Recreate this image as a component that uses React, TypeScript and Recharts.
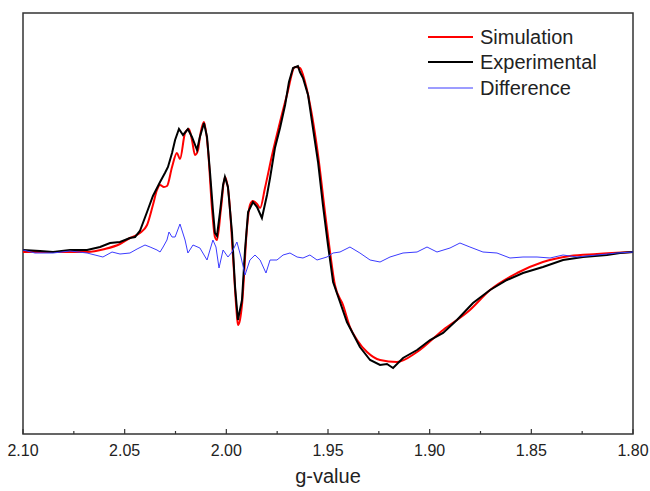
import React from 'react';
import { LineChart, Line, XAxis, YAxis, Label, ReferenceArea } from 'recharts';

// [g-value, signal]
const simulation: [number, number][] = [
  [2.1, -1], [2.0852, -1], [2.0685, -1], [2.0597, 2], [2.0523, 7], [2.0474, 13], [2.0425, 18],
  [2.039, 26], [2.0361, 46], [2.0341, 61], [2.0326, 66], [2.0307, 64], [2.0292, 65], [2.0267, 84],
  [2.0243, 98], [2.0228, 92], [2.0203, 118], [2.0184, 122], [2.0169, 111], [2.0154, 96], [2.0139, 101],
  [2.013, 114], [2.011, 129], [2.009, 101], [2.007, 41], [2.0056, 14], [2.0046, 11], [2.0026, 43],
  [2.0007, 74], [1.9987, 54], [1.9967, -6], [1.9952, -54], [1.9943, -74], [1.9933, -69], [1.9923, -54],
  [1.9898, 24], [1.9884, 46], [1.9869, 50], [1.9849, 47], [1.9834, 43], [1.981, 63], [1.9775, 96],
  [1.9736, 129], [1.9702, 156], [1.9662, 184], [1.9638, 183], [1.9613, 169], [1.9579, 136], [1.9549, 96],
  [1.9515, 39], [1.949, -1], [1.9466, -34], [1.9426, -54], [1.9392, -76], [1.9357, -89], [1.9308, -101],
  [1.9244, -109], [1.9161, -111], [1.9062, -101], [1.8934, -79], [1.8802, -59], [1.8703, -39],
  [1.857, -22], [1.8443, -11], [1.831, -5], [1.8177, -3], [1.8, -1],
];

const experimental: [number, number][] = [
  [2.1, 1], [2.0916, 0], [2.0852, -1], [2.0769, 1], [2.0685, 1], [2.0621, 4], [2.0572, 8], [2.0523, 9],
  [2.0474, 13], [2.0449, 14], [2.0425, 20], [2.039, 39], [2.0361, 55], [2.0351, 59], [2.0326, 69],
  [2.0302, 78], [2.0287, 84], [2.0267, 98], [2.0252, 111], [2.0233, 122], [2.0213, 116], [2.0189, 122],
  [2.0169, 114], [2.0144, 101], [2.013, 114], [2.011, 128], [2.0095, 114], [2.008, 78], [2.0066, 41],
  [2.0056, 18], [2.0046, 15], [2.0031, 39], [2.0016, 66], [2.0007, 74], [1.9992, 64], [1.9972, 18],
  [1.9957, -36], [1.9943, -69], [1.9923, -49], [1.9908, 1], [1.9893, 39], [1.9869, 49], [1.9849, 44],
  [1.9825, 33], [1.98, 56], [1.9785, 73], [1.9761, 103], [1.9736, 123], [1.9711, 146], [1.9692, 169],
  [1.9672, 183], [1.9648, 185], [1.9638, 179], [1.9623, 173], [1.9598, 156], [1.9574, 123], [1.9549, 89],
  [1.9525, 46], [1.95, 6], [1.9475, -31], [1.9441, -51], [1.9407, -71], [1.9343, -96], [1.9293, -109],
  [1.9244, -114], [1.921, -113], [1.918, -117], [1.9131, -107], [1.9062, -99], [1.8998, -89],
  [1.8934, -82], [1.8866, -69], [1.8787, -52], [1.8703, -39], [1.862, -29], [1.8541, -22], [1.8443, -16],
  [1.8344, -9], [1.8246, -6], [1.8128, -4], [1.8064, -2], [1.8, -1],
];

const difference: [number, number][] = [
  [2.1, 1], [2.0941, -2], [2.0852, -2], [2.0769, 0], [2.0685, -2], [2.0607, -6], [2.0562, -1],
  [2.0523, -3], [2.0474, -2], [2.0439, 2], [2.04, 6], [2.0375, 4], [2.0341, 1], [2.0326, -1],
  [2.0311, 4], [2.0292, 11], [2.0282, 19], [2.0267, 14], [2.0252, 14], [2.0228, 27], [2.0203, 11],
  [2.0189, -2], [2.0164, 6], [2.013, 3], [2.0095, -9], [2.0066, 11], [2.0051, 4], [2.0036, -17],
  [2.0016, 1], [1.9992, -6], [1.9972, -1], [1.9948, 9], [1.9928, -6], [1.9908, -24], [1.9884, -9],
  [1.9859, -4], [1.9834, -9], [1.9805, -22], [1.9785, -9], [1.9751, -9], [1.9721, -4], [1.9687, -2],
  [1.9652, -6], [1.9623, -7], [1.9589, -4], [1.9554, -9], [1.9505, -6], [1.9475, -2], [1.9441, -1],
  [1.9392, 4], [1.9343, -2], [1.9293, -9], [1.9244, -11], [1.9195, -6], [1.9131, -2], [1.9062, -1],
  [1.9013, 4], [1.8964, -1], [1.89, 3], [1.8851, 8], [1.8802, 4], [1.8738, -1], [1.8669, -2],
  [1.8605, -7], [1.8541, -6], [1.8472, -6], [1.8408, -7], [1.8344, -4], [1.8275, -6], [1.8177, -4],
  [1.8079, -2], [1.8, -1],
];

const majorTicks = [2.1, 2.05, 2.0, 1.95, 1.9, 1.85, 1.8];
const allTicks = [2.1, 2.075, 2.05, 2.025, 2.0, 1.975, 1.95, 1.925, 1.9, 1.875, 1.85, 1.825, 1.8];

const legendItems = [
  { name: 'Simulation', color: '#ff0000', width: 2 },
  { name: 'Experimental', color: '#000000', width: 2 },
  { name: 'Difference', color: '#3b3bff', width: 1 },
];

const Y_MIN = -183;
const Y_MAX = 238;

const toRows = (pts: [number, number][]) => pts.map(([g, v]) => ({ g, v }));

const FONT = '"Liberation Sans", Arial, sans-serif';

const GTick = (props: any) => {
  const { x, y, payload } = props;
  const major = majorTicks.some((t) => Math.abs(t - payload.value) < 1e-6);
  return (
    <g>
      <line x1={x} x2={x} y1={y} y2={y - (major ? 5 : 3)} stroke="#333" strokeWidth={1.2} />
      {major && (
        <text x={x} y={y + 22} textAnchor="middle" fontSize={16} fill="#222" fontFamily={FONT}>
          {payload.value.toFixed(2)}
        </text>
      )}
    </g>
  );
};

const LegendBox = () => (
  <div
    style={{
      position: 'absolute',
      top: 24,
      left: 428,
      width: 210,
      fontFamily: FONT,
      fontSize: 20,
      color: '#222',
    }}
  >
    {legendItems.map((it) => (
      <div key={it.name} style={{ display: 'flex', alignItems: 'center', height: 25.5 }}>
        <svg width={52} height={10}>
          <line x1={0} x2={45} y1={5} y2={5} stroke={it.color} strokeWidth={it.width} />
        </svg>
        <span style={{ lineHeight: '20px' }}>{it.name}</span>
      </div>
    ))}
  </div>
);

export default function App() {
  return (
    <div style={{ position: 'absolute', left: 0, top: 0, width: 650, height: 491, background: '#fff' }}>
      <LineChart width={650} height={491} margin={{ top: 13, right: 17, left: 23, bottom: 0 }}>
        <XAxis
          dataKey="g"
          type="number"
          domain={[1.8, 2.1]}
          reversed
          ticks={allTicks}
          interval={0}
          tick={<GTick />}
          tickLine={false}
          tickSize={0}
          tickMargin={0}
          height={57}
          axisLine={false}
          allowDataOverflow
        >
          <Label
            value="g-value"
            position="insideBottom"
            offset={8}
            style={{ fontSize: 20, fill: '#222', fontFamily: FONT }}
          />
        </XAxis>
        <YAxis
          type="number"
          domain={[Y_MIN, Y_MAX]}
          ticks={[Y_MIN, Y_MAX]}
          tick={false}
          tickLine={false}
          width={0}
          axisLine={false}
          allowDataOverflow
        />
        <ReferenceArea
          x1={2.1}
          x2={1.8}
          y1={Y_MIN}
          y2={Y_MAX}
          fill="none"
          stroke="#333"
          strokeWidth={1.5}
          ifOverflow="extendDomain"
        />
        <Line
          data={toRows(simulation)}
          dataKey="v"
          name="Simulation"
          type="monotone"
          stroke="#ff0000"
          strokeWidth={2}
          dot={false}
          isAnimationActive={false}
        />
        <Line
          data={toRows(experimental)}
          dataKey="v"
          name="Experimental"
          type="linear"
          stroke="#000000"
          strokeWidth={2}
          dot={false}
          isAnimationActive={false}
        />
        <Line
          data={toRows(difference)}
          dataKey="v"
          name="Difference"
          type="linear"
          stroke="#3b3bff"
          strokeWidth={1}
          dot={false}
          isAnimationActive={false}
        />
      </LineChart>
      <LegendBox />
    </div>
  );
}
